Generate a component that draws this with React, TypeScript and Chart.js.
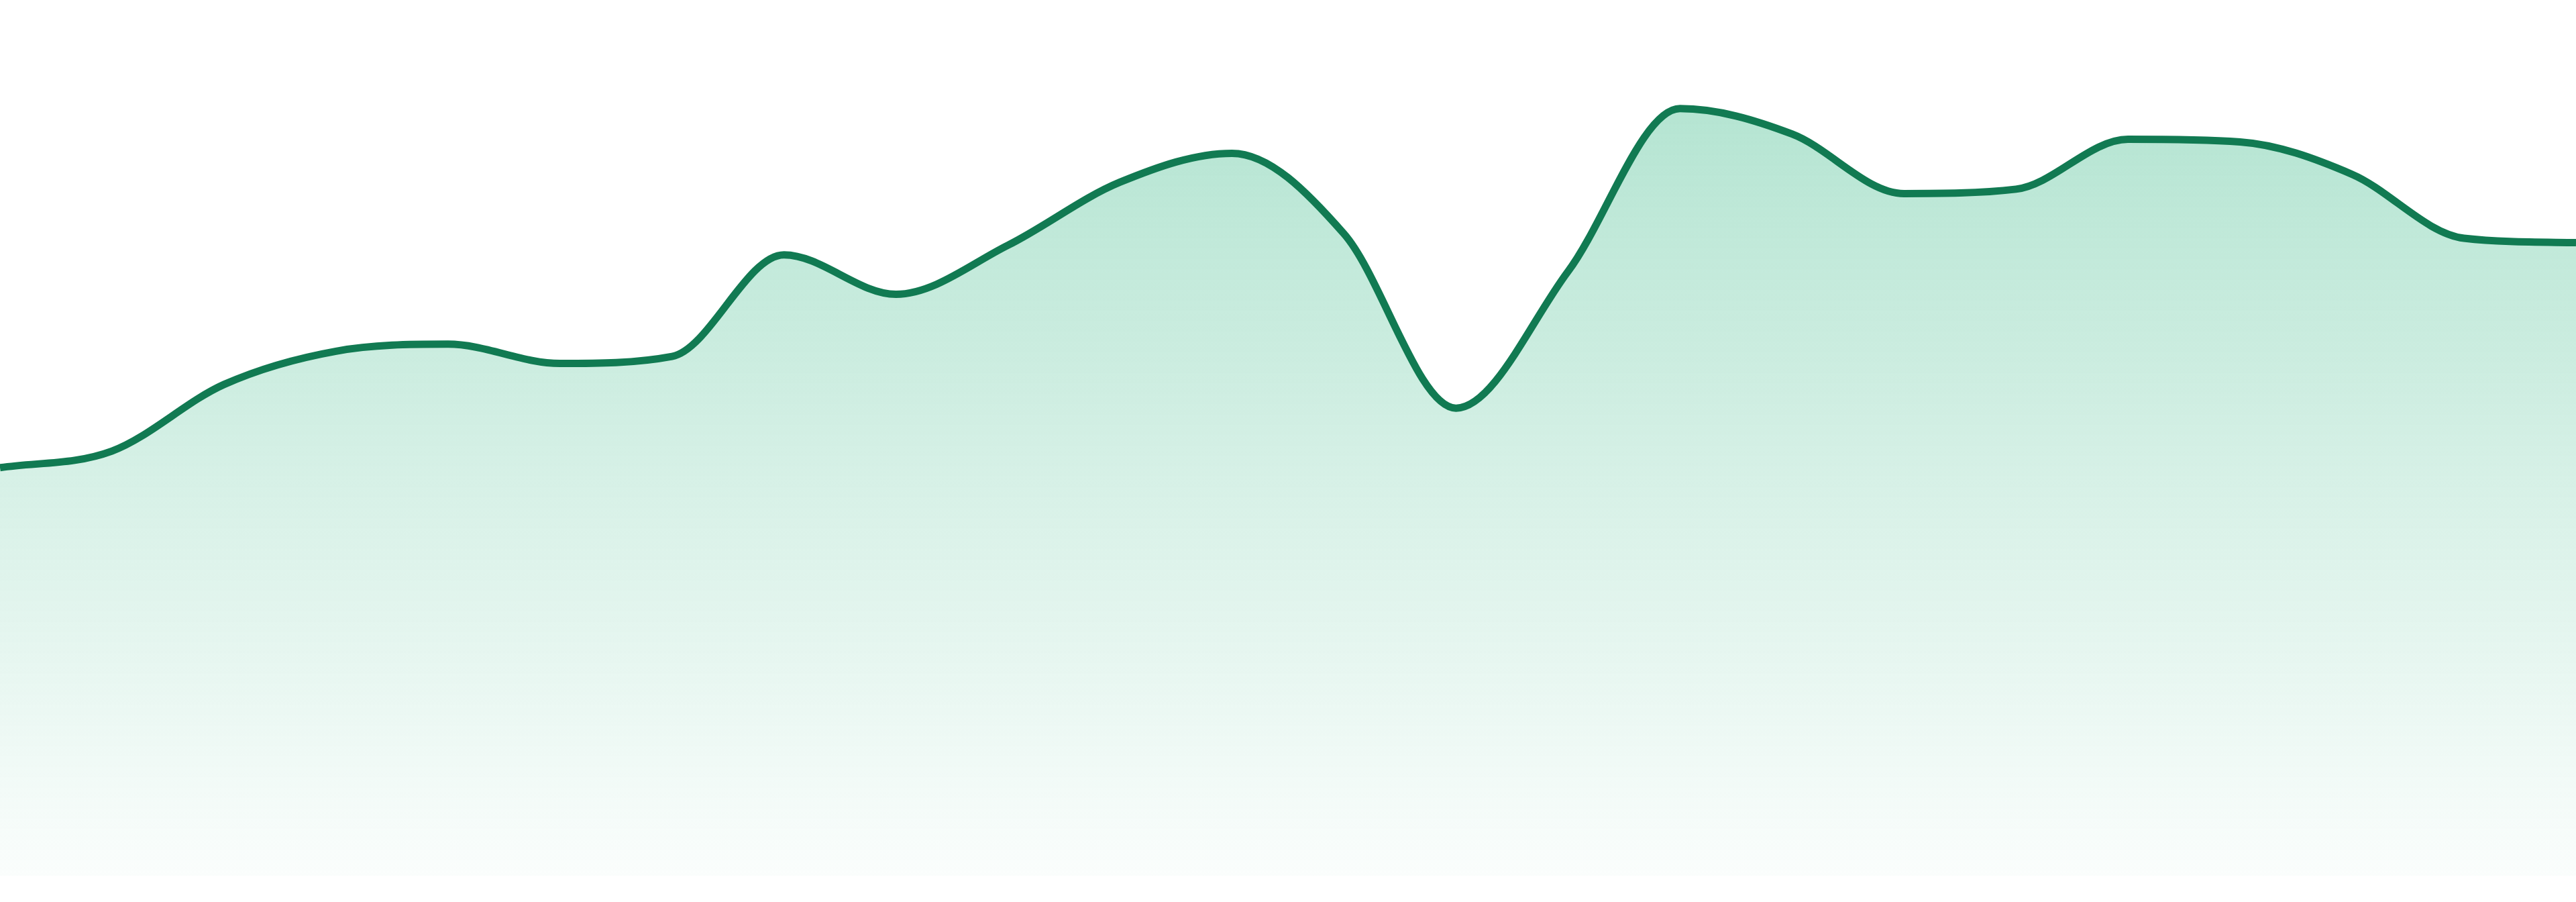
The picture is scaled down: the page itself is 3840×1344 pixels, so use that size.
import React, { useRef, useEffect } from 'react';
import { Chart, registerables } from 'chart.js';

Chart.register(...registerables);

// 24 evenly spaced samples, no axes shown in the reference
const labels = [
  '1', '2', '3', '4', '5', '6', '7', '8', '9', '10', '11', '12',
  '13', '14', '15', '16', '17', '18', '19', '20', '21', '22', '23', '24',
];

const values = [
  46.6, 48.5, 56.1, 59.9, 60.7, 58.5, 59.3, 70.9, 66.4, 72.0, 79.2, 82.5,
  73.3, 53.4, 69.0, 87.6, 84.7, 77.9, 78.4, 84.1, 83.8, 80.1, 72.8, 72.3,
];

const LINE_COLOR = 'rgb(17, 122, 82)';

const App: React.FC = () => {
  const canvasRef = useRef<HTMLCanvasElement>(null);
  const chartInstance = useRef<Chart | null>(null);

  useEffect(() => {
    if (!canvasRef.current) return;
    const ctx = canvasRef.current.getContext('2d');
    if (!ctx) return;

    if (chartInstance.current) {
      chartInstance.current.destroy();
    }

    const peak = Math.max(...values);

    chartInstance.current = new Chart(ctx, {
      type: 'line',
      data: {
        labels,
        datasets: [
          {
            data: values,
            borderColor: LINE_COLOR,
            borderWidth: 11,
            cubicInterpolationMode: 'monotone',
            pointRadius: 0,
            pointHoverRadius: 0,
            fill: 'start',
            backgroundColor: (context) => {
              const { chart } = context;
              const { chartArea, scales } = chart;
              if (!chartArea) return 'rgba(16, 170, 110, 0.15)';
              const top = scales.y.getPixelForValue(peak);
              const g = chart.ctx.createLinearGradient(0, top, 0, chartArea.bottom);
              g.addColorStop(0, 'rgba(16, 170, 110, 0.31)');
              g.addColorStop(1, 'rgba(16, 170, 110, 0.02)');
              return g;
            },
          },
        ],
      },
      options: {
        animation: false,
        responsive: true,
        maintainAspectRatio: false,
        layout: {
          padding: { top: 0, bottom: 39, left: 0, right: 0 },
        },
        plugins: {
          legend: { display: false },
          tooltip: { enabled: false },
        },
        scales: {
          x: { display: false, offset: false },
          y: { display: false, min: 0, max: 100 },
        },
      },
    });

    return () => {
      if (chartInstance.current) {
        chartInstance.current.destroy();
        chartInstance.current = null;
      }
    };
  }, []);

  return (
    <div style={{ position: 'fixed', left: 0, top: 0, width: '100vw', height: '100vh', background: '#fff' }}>
      <canvas ref={canvasRef} />
    </div>
  );
};

export default App;
